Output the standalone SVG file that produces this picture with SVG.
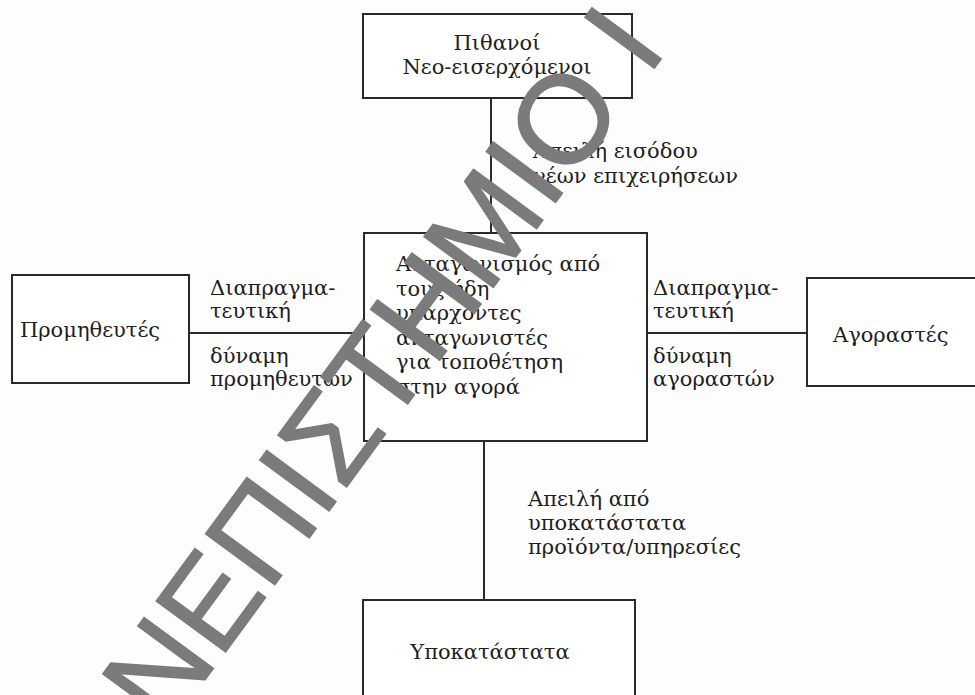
<svg xmlns="http://www.w3.org/2000/svg" width="975" height="695" viewBox="0 0 975 695">
<style>
.box{fill:#fff;stroke:#2a2a2a;stroke-width:2}
.ln{stroke:#2a2a2a;stroke-width:2;fill:none}
text{font-family:"DejaVu Serif","Liberation Serif",serif;font-size:21px;fill:#1e1e1e}
.c{text-anchor:middle}
.wm{font-family:"Liberation Sans",Arial,sans-serif;font-size:125px;fill:#7b7b7b;stroke:#7b7b7b;stroke-width:1.5}
</style>
<rect width="975" height="695" fill="#fdfdfd"/>
<g id="connectors">
<line class="ln" x1="491" y1="98" x2="491" y2="233"/>
<line class="ln" x1="189" y1="333" x2="364" y2="333"/>
<line class="ln" x1="647" y1="333" x2="807" y2="333"/>
<line class="ln" x1="484" y1="441" x2="484" y2="600"/>
<text x="533" y="158">Απειλή εισόδου</text>
<text x="533" y="183">νέων επιχειρήσεων</text>
<text x="210" y="295">Διαπραγμα-</text>
<text x="210" y="318">τευτική</text>
<text x="210" y="363">δύναμη</text>
<text x="210" y="386">προμηθευτών</text>
<text x="653" y="295">Διαπραγμα-</text>
<text x="653" y="318">τευτική</text>
<text x="653" y="363">δύναμη</text>
<text x="653" y="386">αγοραστών</text>
<text x="528" y="506">Απειλή από</text>
<text x="528" y="530">υποκατάστατα</text>
<text x="528" y="554">προϊόντα/υπηρεσίες</text>
</g>
<g id="entrants">
<rect class="box" x="363" y="14" width="269" height="84"/>
<text class="c" x="497" y="50">Πιθανοί</text>
<text class="c" x="497" y="74">Νεο-εισερχόμενοι</text>
</g>
<g id="rivalry">
<rect class="box" x="364" y="233" width="283" height="208"/>
<text x="396" y="271">Ανταγωνισμός από</text>
<text x="396" y="295.5">τους ήδη</text>
<text x="396" y="320">υπάρχοντες</text>
<text x="396" y="344.5">ανταγωνιστές</text>
<text x="396" y="369">για τοποθέτηση</text>
<text x="396" y="393.5">στην αγορά</text>
</g>
<g id="suppliers">
<rect class="box" x="12" y="275" width="177" height="108"/>
<text class="c" x="90" y="337">Προμηθευτές</text>
</g>
<g id="buyers">
<rect class="box" x="807" y="278" width="190" height="108"/>
<text x="833" y="342">Αγοραστές</text>
</g>
<g id="substitutes">
<rect class="box" x="363" y="600" width="272" height="110"/>
<text class="c" x="490" y="659">Υποκατάστατα</text>
</g>
<text class="wm" transform="translate(166,733) rotate(-53.7)">ΝΕΠΙΣΤΗΜΙΟ Ι</text>
</svg>
